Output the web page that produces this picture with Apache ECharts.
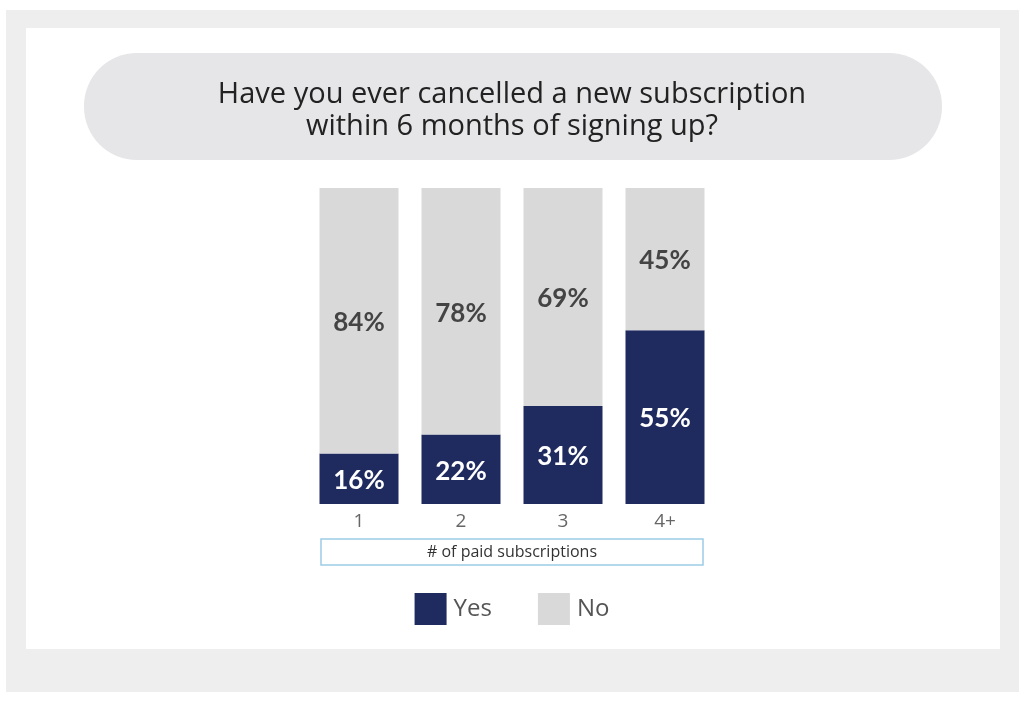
<!DOCTYPE html>
<html lang="en">

<head>
    <meta charset="UTF-8">
    <title>Subscription cancellations</title>
    <script src="https://cdn.jsdelivr.net/npm/echarts@6.0.0/dist/echarts.min.js"></script>
    <style>
        html, body { margin: 0; padding: 0; background: #ffffff; }
        #main { width: 1024px; height: 702px; }
    </style>
</head>

<body>
    <div id="main"></div>

    <script>
        // data
        const categories = ["1", "2", "3", "4+"];
        const yesValues = [16, 22, 31, 55];
        const noValues = [84, 78, 69, 45];
        const titleLines = ["Have you ever cancelled a new subscription", "within 6 months of signing up?"];
        const axisTitle = "# of paid subscriptions";

        const font = "Lato, 'Open Sans', sans-serif";
        const wideFont = "'Open Sans', Lato, sans-serif";
        const myChart = echarts.init(document.getElementById('main'));

        let option = {
            backgroundColor: '#ffffff',
            animation: false,
            graphic: [
                // outer grey frame
                { type: 'rect', z: -10, shape: { x: 6, y: 10, width: 1013, height: 682 }, style: { fill: '#eeeeee' } },
                { type: 'rect', z: -9, shape: { x: 26, y: 28, width: 974, height: 621 }, style: { fill: '#ffffff' } },
                // title pill
                { type: 'rect', z: -8, shape: { x: 84, y: 53, width: 858, height: 107, r: 53 }, style: { fill: '#e6e6e8' } }
            ],
            title: {
                text: titleLines.join('\n'),
                left: 'center',
                top: 74,
                textStyle: {
                    fontFamily: wideFont,
                    fontWeight: 'normal',
                    fontSize: 29,
                    lineHeight: 32,
                    color: '#222222'
                }
            },
            legend: {
                data: ['Yes', 'No'],
                left: 'center',
                top: 588,
                itemWidth: 32,
                itemHeight: 32,
                itemGap: 46,
                icon: 'rect',
                textStyle: { fontFamily: wideFont, fontSize: 24, color: '#555555', padding: [0, 0, 0, 2] }
            },
            grid: { left: 308, width: 408, top: 188, height: 316 },
            xAxis: {
                type: 'category',
                data: categories,
                axisLine: { show: false },
                axisTick: { show: false },
                axisLabel: { fontFamily: wideFont, fontSize: 19, color: '#666666', margin: 8 },
                name: axisTitle,
                nameLocation: 'middle',
                nameGap: 35,
                nameTextStyle: {
                    fontFamily: wideFont,
                    fontSize: 16,
                    color: '#333333',
                    padding: [5, 106, 5, 106],
                    borderColor: '#9ccbe6',
                    borderWidth: 1.5
                }
            },
            yAxis: { type: 'value', min: 0, max: 100, show: false },
            series: [
                {
                    name: 'Yes',
                    type: 'bar',
                    stack: 'total',
                    barWidth: 79,
                    data: yesValues,
                    itemStyle: { color: '#1f2a5e' },
                    label: {
                        show: true,
                        position: 'inside',
                        offset: [0, 2],
                        formatter: '{c}%',
                        fontFamily: font,
                        fontWeight: 'bold',
                        fontSize: 26,
                        color: '#ffffff'
                    }
                },
                {
                    name: 'No',
                    type: 'bar',
                    stack: 'total',
                    barWidth: 79,
                    data: noValues,
                    itemStyle: { color: '#d9d9d9' },
                    label: {
                        show: true,
                        position: 'inside',
                        offset: [0, 2],
                        formatter: '{c}%',
                        fontFamily: font,
                        fontWeight: 'bold',
                        fontSize: 26,
                        color: '#444444'
                    }
                }
            ]
        };

        myChart.setOption(option);
    </script>
</body>

</html>
